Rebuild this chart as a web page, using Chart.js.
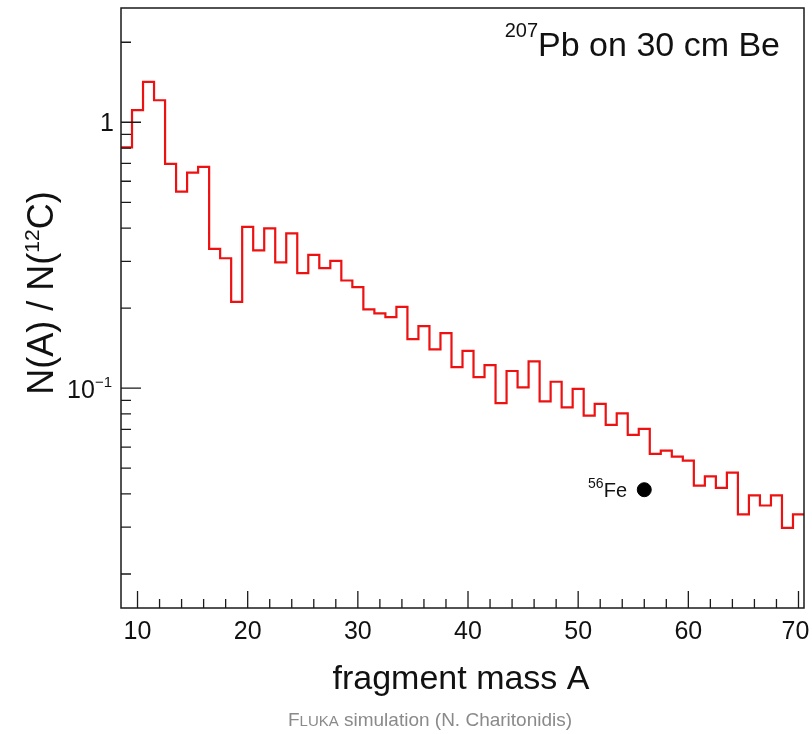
<!DOCTYPE html>
<html>
<head>
<meta charset="utf-8">
<script src="https://cdn.jsdelivr.net/npm/chart.js@4"></script>
<style>
  html, body { margin: 0; padding: 0; background: #fff; }
  #wrap { width: 812px; height: 734px; }
</style>
</head>
<body>
<div id="wrap"><canvas id="myChart" width="812" height="734"></canvas></div>
<script>
// fragment mass A (bin centres)
var massA = [9, 10, 11, 12, 13, 14, 15, 16, 17, 18, 19, 20, 21, 22, 23, 24, 25, 26, 27, 28,
  29, 30, 31, 32, 33, 34, 35, 36, 37, 38, 39, 40, 41, 42, 43, 44, 45, 46, 47, 48,
  49, 50, 51, 52, 53, 54, 55, 56, 57, 58, 59, 60, 61, 62, 63, 64, 65, 66, 67, 68, 69, 70];
// N(A) / N(12C)
var ratio = [0.804, 1.11, 1.42, 1.21, 0.698, 0.548, 0.646, 0.68, 0.334, 0.308,
  0.211, 0.404, 0.330, 0.399, 0.297, 0.382, 0.271, 0.317, 0.283, 0.301,
  0.254, 0.240, 0.198, 0.191, 0.185, 0.202, 0.153, 0.171, 0.140, 0.161,
  0.120, 0.138, 0.110, 0.122, 0.0879, 0.116, 0.1006, 0.126, 0.0892, 0.1057,
  0.0847, 0.0993, 0.0788, 0.0872, 0.0727, 0.0804, 0.0667, 0.0703, 0.0566, 0.0582,
  0.0553, 0.0534, 0.0430, 0.0466, 0.0422, 0.0481, 0.0335, 0.0395, 0.0362, 0.0395,
  0.0298, 0.0335];
// 56Fe marker
var feMass = [56];
var feRatio = [0.0415];

var xMajor = [10, 20, 30, 40, 50, 60, 70];
var xMinor = [12, 14, 16, 18, 22, 24, 26, 28, 32, 34, 36, 38, 42, 44, 46, 48, 52, 54, 56, 58, 62, 64, 66, 68];
var yMajor = [0.1, 1];
var yMinor = [0.02, 0.03, 0.04, 0.05, 0.06, 0.07, 0.08, 0.09, 0.2, 0.3, 0.4, 0.5, 0.6, 0.7, 0.8, 0.9, 2];

// histogram outline from bin edges
var histPts = [];
for (var i = 0; i < massA.length; i++) {
  histPts.push({ x: massA[i] - 0.5, y: ratio[i] });
}
histPts.push({ x: massA[massA.length - 1] + 0.5, y: ratio[ratio.length - 1] });

var fePts = [];
for (var j = 0; j < feMass.length; j++) {
  fePts.push({ x: feMass[j], y: feRatio[j] });
}

var FONT = '"Liberation Sans", Arial, Helvetica, sans-serif';

// text with a superscript part: parts = [[text, size, rise], ...]
function drawParts(c, parts, x, y, align) {
  var total = 0;
  for (var k = 0; k < parts.length; k++) {
    c.font = parts[k][1] + 'px ' + FONT;
    total += c.measureText(parts[k][0]).width;
  }
  var px = x;
  if (align === 'right') px = x - total;
  if (align === 'center') px = x - total / 2;
  c.textAlign = 'left';
  c.textBaseline = 'alphabetic';
  for (var k2 = 0; k2 < parts.length; k2++) {
    c.font = parts[k2][1] + 'px ' + FONT;
    c.fillText(parts[k2][0], px, y - parts[k2][2]);
    px += c.measureText(parts[k2][0]).width;
  }
}

var rootFrame = {
  id: 'rootFrame',
  afterDatasetsDraw: function(chart) {
    var c = chart.ctx;
    var a = chart.chartArea;
    var xs = chart.scales.x;
    var ys = chart.scales.y;
    c.save();
    c.strokeStyle = '#1a1a1a';
    c.lineWidth = 1.5;
    c.strokeRect(a.left, a.top, a.right - a.left, a.bottom - a.top);

    c.lineWidth = 1.3;
    c.beginPath();
    xMajor.forEach(function(v) {
      var p = xs.getPixelForValue(v);
      c.moveTo(p, a.bottom); c.lineTo(p, a.bottom - 17);
    });
    xMinor.forEach(function(v) {
      var p = xs.getPixelForValue(v);
      c.moveTo(p, a.bottom); c.lineTo(p, a.bottom - 9);
    });
    yMajor.forEach(function(v) {
      var p = ys.getPixelForValue(v);
      c.moveTo(a.left, p); c.lineTo(a.left + 20, p);
    });
    yMinor.forEach(function(v) {
      var p = ys.getPixelForValue(v);
      c.moveTo(a.left, p); c.lineTo(a.left + 10, p);
    });
    c.stroke();

    // tick labels
    c.fillStyle = '#111';
    c.font = '25px ' + FONT;
    c.textBaseline = 'alphabetic';
    xMajor.forEach(function(v, n) {
      var p = xs.getPixelForValue(v);
      c.textAlign = 'center';
      if (n === xMajor.length - 1) p -= 3;
      c.fillText(String(v), p, 639);
    });
    drawParts(c, [['1', 25, 0]], 114, ys.getPixelForValue(1) + 9, 'right');
    drawParts(c, [['10', 25, 0], ['\u22121', 15, 11]], 112, ys.getPixelForValue(0.1) + 10, 'right');

    // titles
    drawParts(c, [['207', 20, 19], ['Pb on 30 cm Be', 34, 0]], 780, 56, 'right');
    drawParts(c, [['56', 14, 9], ['Fe', 20, 0]], 627, 497, 'right');
    drawParts(c, [['fragment mass A', 34, 0]], 461, 689, 'center');

    c.save();
    c.translate(53, 293);
    c.rotate(-Math.PI / 2);
    drawParts(c, [['N(A) / N(', 36, 0], ['12', 21, 14], ['C)', 36, 0]], 0, 0, 'center');
    c.restore();

    c.fillStyle = '#8a8a8a';
    drawParts(c, [['F', 19, 0], ['LUKA', 15, 0], [' simulation (N. Charitonidis)', 19, 0]], 430, 726, 'center');
    c.restore();
  }
};

var ctx = document.getElementById('myChart').getContext('2d');
var myChart = new Chart(ctx, {
  type: 'line',
  data: {
    datasets: [{
      label: 'N(A)/N(12C)',
      data: histPts,
      stepped: 'before',
      borderColor: '#ee1111',
      borderWidth: 2.2,
      pointRadius: 0,
      fill: false
    }, {
      label: '56Fe',
      type: 'scatter',
      data: fePts,
      backgroundColor: '#000',
      borderColor: '#000',
      pointRadius: 7
    }]
  },
  options: {
    responsive: false,
    animation: false,
    events: [],
    layout: { padding: { top: 6, right: 8, left: 0, bottom: 0 } },
    plugins: { legend: { display: false }, tooltip: { enabled: false } },
    scales: {
      x: {
        type: 'linear',
        min: 8.5,
        max: 70.5,
        grid: { display: false },
        border: { display: false },
        ticks: { display: false },
        afterFit: function(s) { s.height = 126; }
      },
      y: {
        type: 'logarithmic',
        min: 0.0149,
        max: 2.69,
        grid: { display: false },
        border: { display: false },
        ticks: { display: false },
        afterFit: function(s) { s.width = 121; }
      }
    }
  },
  plugins: [rootFrame]
});
</script>
</body>
</html>
